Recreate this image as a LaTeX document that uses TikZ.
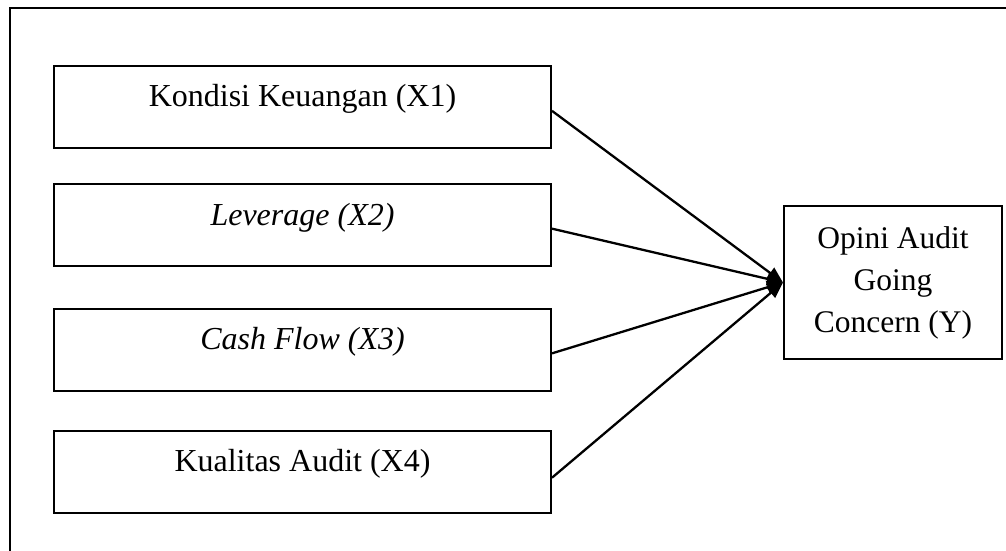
\documentclass[tikz,border=0pt]{standalone}
\usepackage{fontspec}
\setmainfont{Liberation Serif}
\usetikzlibrary{arrows.meta}
\begin{document}
\begin{tikzpicture}[x=1pt,y=-1pt,
  frame/.style={line width=2.2pt},
  varbox/.style={draw,line width=2pt,minimum width=497pt,inner xsep=0pt,inner ysep=0pt,
    text height=41pt,text depth=41pt,font=\fontsize{32}{38}\selectfont},
  ybox/.style={draw,line width=2pt,minimum width=218pt,minimum height=153pt,
    align=center,inner sep=0pt,font=\fontsize{31.5}{42}\selectfont},
  link/.style={line width=2.3pt,-{Triangle[length=16pt,width=13pt]}}]
\useasboundingbox (0,0) rectangle (1006,550);
% outer frame (continues past the right and bottom edges)
\draw[frame] (10,560) -- (10,8) -- (1016,8);
% independent variables
\node[varbox] (x1) at (302.5,106.85) {Kondisi Keuangan (X1)};
\node[varbox] (x2) at (302.5,225.15) {\itshape Leverage (X2)};
\node[varbox] (x3) at (302.5,349.85) {\itshape Cash Flow (X3)};
\node[varbox] (x4) at (302.5,471.7) {Kualitas Audit (X4)};
% dependent variable
\node[ybox] (y) at (893,282.5) {Opini Audit\\Going\\Concern (Y)};
% connectors
\draw[link] ([yshift=-4pt]x1.east) -- (y.west);
\draw[link] ([yshift=-3.5pt]x2.east) -- (y.west);
\draw[link] ([yshift=-3.5pt]x3.east) -- (y.west);
\draw[link] ([yshift=-6pt]x4.east) -- (y.west);
\end{tikzpicture}
\end{document}
